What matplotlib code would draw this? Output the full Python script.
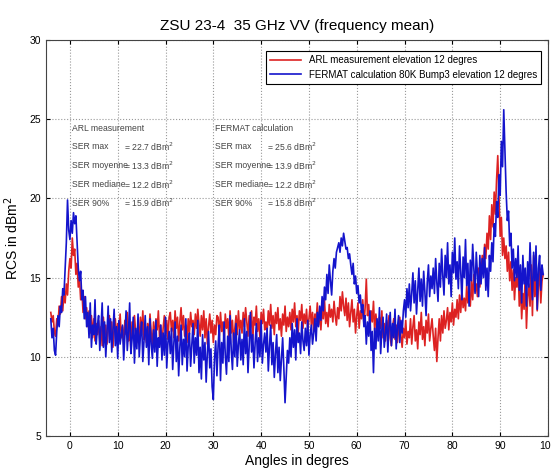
import numpy as np
import matplotlib
matplotlib.use("Agg")
import matplotlib.pyplot as plt
import matplotlib.ticker as mticker

plt.rcParams["font.family"] = ["Liberation Sans", "DejaVu Sans"]

angles = np.arange(-4.0, 99.01, 0.25)

arl = [
    12.8, 12.2, 12.6, 11.6, 11.3, 12.4, 12.0, 13.2, 12.7, 13.8,
    12.9, 14.0, 13.4, 14.6, 13.9, 15.4, 16.2, 15.6, 17.5, 16.4,
    16.8, 15.2, 15.9, 14.4, 15.0, 13.6, 14.2, 12.8, 13.8, 12.4,
    13.1, 11.9, 12.9, 11.5, 12.6, 11.2, 12.4, 11.0, 12.1, 11.4,
    12.3, 11.0, 11.9, 10.7, 12.5, 11.3, 12.0, 10.8, 11.7, 12.6,
    11.1, 12.2, 10.6, 11.8, 12.4, 11.0, 12.1, 11.3, 12.7, 11.2,
    11.9, 10.8, 12.3, 11.4, 12.8, 11.0, 11.7, 10.5, 12.2, 11.3,
    12.6, 11.6, 10.9, 12.0, 11.2, 12.5, 11.4, 12.9, 11.1, 11.8,
    10.9, 12.1, 11.3, 12.7, 11.5, 10.8, 12.2, 11.0, 12.4, 11.7,
    12.9, 11.2, 12.0, 10.7, 11.8, 12.6, 11.4, 12.3, 11.1, 12.5,
    12.8, 11.6, 12.3, 11.2, 12.9, 11.8, 12.5, 11.0, 12.2, 13.1,
    11.7, 12.6, 11.3, 12.0, 10.9, 12.4, 11.5, 12.8, 11.9, 12.3,
    11.4, 12.7, 11.8, 13.0, 12.1, 11.3, 12.6, 11.7, 12.9, 11.2,
    12.4, 10.8, 11.9, 12.7, 11.5, 12.3, 10.9, 12.0, 11.4, 12.6,
    12.5, 11.3, 12.8, 11.6, 12.2, 11.0, 12.7, 11.8, 12.4, 11.2,
    12.9, 11.5, 12.3, 10.9, 11.8, 12.6, 11.4, 12.9, 11.7, 12.3,
    11.5, 12.8, 11.9, 13.1, 12.2, 11.3, 12.6, 11.8, 12.9, 11.1,
    12.5, 12.0, 13.2, 11.6, 12.4, 11.2, 12.8, 12.1, 13.0, 11.7,
    12.2, 11.6, 12.9, 12.0, 13.3, 11.8, 12.6, 11.4, 12.8, 12.1,
    13.1, 11.7, 12.4, 11.3, 12.7, 12.0, 13.2, 11.6, 12.5, 11.9,
    12.8, 11.7, 13.0, 12.2, 13.4, 11.9, 12.6, 11.5, 12.9, 12.3,
    13.3, 11.8, 12.7, 12.1, 13.0, 11.6, 12.4, 13.2, 12.0, 12.8,
    11.6, 12.7, 12.2, 13.4, 12.0, 12.9, 11.7, 13.1, 12.4, 13.6,
    12.1, 12.8, 11.9, 13.3, 12.5, 13.0, 12.2, 13.5, 12.6, 12.0,
    13.1, 12.4, 13.8, 12.9, 14.1, 13.2, 12.6, 13.7, 12.3, 13.4,
    11.9, 12.8, 13.6, 12.2, 13.0, 11.5, 12.6, 13.4, 11.8, 12.9,
    12.4, 13.6, 12.0, 13.1, 14.9, 12.6, 13.3, 11.8, 12.9, 12.2,
    13.5, 11.6, 12.7, 12.0, 11.4, 12.5, 11.8, 12.9, 11.2, 12.1,
    11.0, 12.3, 11.5, 12.6, 11.2, 10.7, 11.9, 12.4, 11.1, 12.0,
    10.9, 11.7, 12.5, 11.3, 10.6, 11.8, 11.2, 12.3, 10.8, 11.6,
    11.2, 12.4, 10.8, 11.9, 12.6, 11.0, 11.7, 10.5, 12.2, 11.4,
    12.8, 11.1, 11.9, 10.7, 12.3, 11.5, 12.7, 11.0, 11.8, 12.4,
    11.3, 10.4, 11.8, 9.7, 11.2, 12.4, 11.0, 12.6, 11.5, 12.9,
    11.8, 12.3, 13.1, 11.7, 12.8, 12.2, 13.4, 12.0, 13.0, 12.5,
    13.6, 12.4, 13.9, 12.8, 14.2, 13.1, 13.7, 12.9, 14.5, 13.4,
    14.0, 13.2, 14.8, 13.6, 15.2, 14.1, 14.6, 13.8, 15.6, 14.4,
    15.2, 16.4, 15.6, 17.1, 16.2, 17.8, 16.8, 18.9, 17.4, 19.6,
    18.2, 20.4, 19.0, 21.2, 22.7, 20.1, 17.6, 18.8, 16.4, 17.5,
    16.2, 17.0, 15.4, 16.6, 14.8, 16.0, 14.2, 15.5, 13.6, 15.0,
    14.4, 15.8, 13.2, 14.6, 12.4, 14.0, 13.0, 15.2, 11.8, 13.8,
    14.6, 13.2, 15.8, 12.6, 16.4, 13.8, 15.0, 12.9, 14.4, 15.6,
    13.4, 14.8, 15.2,
]

fermat = [
    12.4, 11.2, 11.8, 10.4, 10.1, 11.6, 12.6, 11.9, 13.2, 12.8,
    14.3, 13.9, 15.6, 17.2, 19.9, 18.0, 17.4, 18.6, 17.8, 19.1,
    18.4, 18.9, 17.2, 15.6, 14.8, 15.4, 13.6, 14.2, 12.4, 13.8,
    11.9, 12.8, 11.2, 13.4, 10.6, 12.0, 11.4, 13.6, 10.8, 11.9,
    12.6, 10.4, 11.8, 13.4, 10.6, 12.2, 10.0, 11.5, 13.2, 10.9,
    12.4, 10.3, 11.6, 13.0, 10.7, 11.9, 9.9, 12.3, 10.8, 11.4,
    12.0, 9.8, 11.3, 12.9, 10.4, 11.6, 13.4, 10.2, 11.1, 12.5,
    9.6, 11.8, 10.5, 12.7, 10.0, 11.4, 12.2, 9.7, 11.0, 12.6,
    10.6, 11.9, 9.5, 12.4, 10.8, 9.9, 11.7, 10.3, 12.3, 9.4,
    11.2, 10.6, 12.0, 9.8, 11.5, 10.1, 12.5, 9.3, 10.9, 11.6,
    10.2, 11.8, 9.2, 10.9, 12.2, 9.7, 11.3, 8.8, 10.6, 12.0,
    9.5, 11.1, 10.0, 12.4, 9.1, 10.7, 11.5, 9.4, 10.8, 12.1,
    9.6, 11.2, 10.1, 12.3, 9.0, 10.6, 8.6, 11.4, 9.8, 10.9,
    8.4, 10.2, 11.6, 9.3, 10.5, 8.1, 7.3, 9.9, 11.0, 8.8,
    10.7, 12.0, 8.5, 10.9, 9.6, 12.2, 10.1, 8.9, 11.3, 9.7,
    12.6, 10.4, 9.2, 11.5, 10.0, 12.1, 9.4, 10.8, 11.7, 9.8,
    11.1, 9.5, 12.4, 10.2, 11.6, 9.0, 10.7, 12.8, 10.3, 11.4,
    9.3, 10.9, 12.1, 9.7, 11.2, 10.0, 12.3, 9.6, 10.8, 11.5,
    10.3, 11.8, 9.1, 10.7, 12.0, 9.5, 10.9, 8.7, 10.2, 11.4,
    9.0, 10.6, 8.5, 9.9, 11.2, 9.3, 7.1, 8.8, 10.4, 9.6,
    11.2, 10.0, 12.1, 10.6, 11.7, 9.8, 12.4, 10.9, 11.5, 10.2,
    12.2, 11.0, 10.4, 11.8, 10.7, 12.3, 10.1, 11.4, 12.0, 10.8,
    11.5, 12.4, 11.0, 12.8, 11.9, 13.2, 12.3, 13.8, 12.9, 14.4,
    13.6, 15.2, 14.0, 15.8, 14.8, 13.9, 15.4, 16.2, 15.6, 16.6,
    16.9, 17.2, 16.6, 17.5, 17.0, 17.8, 17.3, 16.8, 16.9, 16.2,
    16.5, 15.8, 15.2, 15.9, 14.6, 15.1, 14.0, 14.5, 13.4, 13.9,
    12.8, 13.3, 11.9, 12.6, 10.8, 12.2, 11.3, 12.9, 10.4, 11.6,
    9.0, 11.8, 10.5, 12.4, 11.0, 13.1, 10.2, 11.7, 12.5, 10.6,
    11.4, 12.7, 10.3, 11.9, 12.8, 10.7, 12.1, 11.2, 13.0, 10.5,
    11.8, 12.6, 10.9, 12.3, 11.5, 12.9, 13.6, 12.5, 14.3, 13.1,
    14.6, 12.9, 14.0, 15.3, 13.4, 14.8, 12.7, 14.2, 15.6, 13.5,
    14.9, 13.2, 15.4, 14.1, 12.6, 14.7, 15.8, 13.8, 15.1, 14.3,
    15.6, 14.0, 16.2, 14.7, 13.5, 15.9, 14.4, 16.8, 15.1, 13.9,
    16.4, 15.0, 17.2, 14.6, 15.8, 13.8, 16.6, 15.3, 17.5, 14.9,
    16.0, 14.3, 17.0, 15.4, 13.6, 16.3, 15.0, 17.4, 14.5, 15.9,
    13.2, 16.1, 14.8, 17.1, 15.5, 14.0, 16.6, 15.2, 13.8, 16.4,
    14.6, 16.2, 15.0, 16.9, 14.2, 15.6, 13.8, 16.4, 15.4, 17.2,
    16.0, 18.4, 17.6, 19.8, 18.8, 21.5, 20.2, 23.6, 22.0, 25.6,
    23.0, 20.4, 18.6, 19.2, 17.0, 17.8, 15.6, 16.8, 14.8, 16.2,
    15.0, 17.0, 14.2, 15.8, 13.4, 16.4, 14.6, 15.6, 13.2, 16.0,
    14.4, 17.2, 15.0, 13.6, 16.6, 14.8, 17.0, 13.0, 15.6, 16.4,
    14.2, 15.8, 15.2,
]

stat_names = ["SER max", "SER moyenne", "SER mediane", "SER 90%"]
arl_stats = [22.7, 13.3, 12.2, 15.9]
fermat_stats = [25.6, 13.9, 12.2, 15.8]

fig = plt.figure(figsize=(5.51, 4.69), dpi=100)
ax = fig.add_axes([0.0835, 0.0704, 0.911, 0.8443])

ax.plot(angles, arl, color="#dd2222", linewidth=1.2,
        label="ARL measurement elevation 12 degres")
ax.plot(angles, fermat, color="#1414cc", linewidth=1.2,
        label="FERMAT calculation 80K Bump3 elevation 12 degres")

ax.set_xlim(-5, 100)
ax.set_ylim(5, 30)
ax.xaxis.set_major_locator(mticker.MultipleLocator(10))
ax.yaxis.set_major_locator(mticker.MultipleLocator(5))
ax.grid(True, linestyle=":", color="#999999", linewidth=0.8)
ax.tick_params(direction="in", top=True, right=True, labelsize=7.5, length=3)
for s in ax.spines.values():
    s.set_linewidth(0.8)
    s.set_color("#444444")

ax.set_title("ZSU 23-4  35 GHz VV (frequency mean)", fontsize=11, pad=7)
ax.set_xlabel("Angles in degres", fontsize=10, labelpad=2)
ax.set_ylabel("RCS in dBm$^2$", fontsize=10, labelpad=6)

leg = ax.legend(loc="upper right", bbox_to_anchor=(0.986, 0.972), fontsize=7,
                fancybox=False, edgecolor="black", handlelength=3.2,
                borderaxespad=0, framealpha=1)
leg.get_frame().set_linewidth(0.8)

ys = [23.25, 22.05, 20.85, 19.7]
fs = 6.2
ax.text(0.4, 24.4, "ARL measurement", fontsize=fs, color="#444444", va="center")
ax.text(30.3, 24.4, "FERMAT calculation", fontsize=fs, color="#444444", va="center")
for name, a, f, y in zip(stat_names, arl_stats, fermat_stats, ys):
    ax.text(0.4, y, name, fontsize=fs, color="#444444", va="center")
    ax.text(11.4, y, f"= {a} dBm$^2$", fontsize=fs, color="#444444", va="center")
    ax.text(30.3, y, name, fontsize=fs, color="#444444", va="center")
    ax.text(41.3, y, f"= {f} dBm$^2$", fontsize=fs, color="#444444", va="center")

fig.savefig("out.png", dpi=100)
